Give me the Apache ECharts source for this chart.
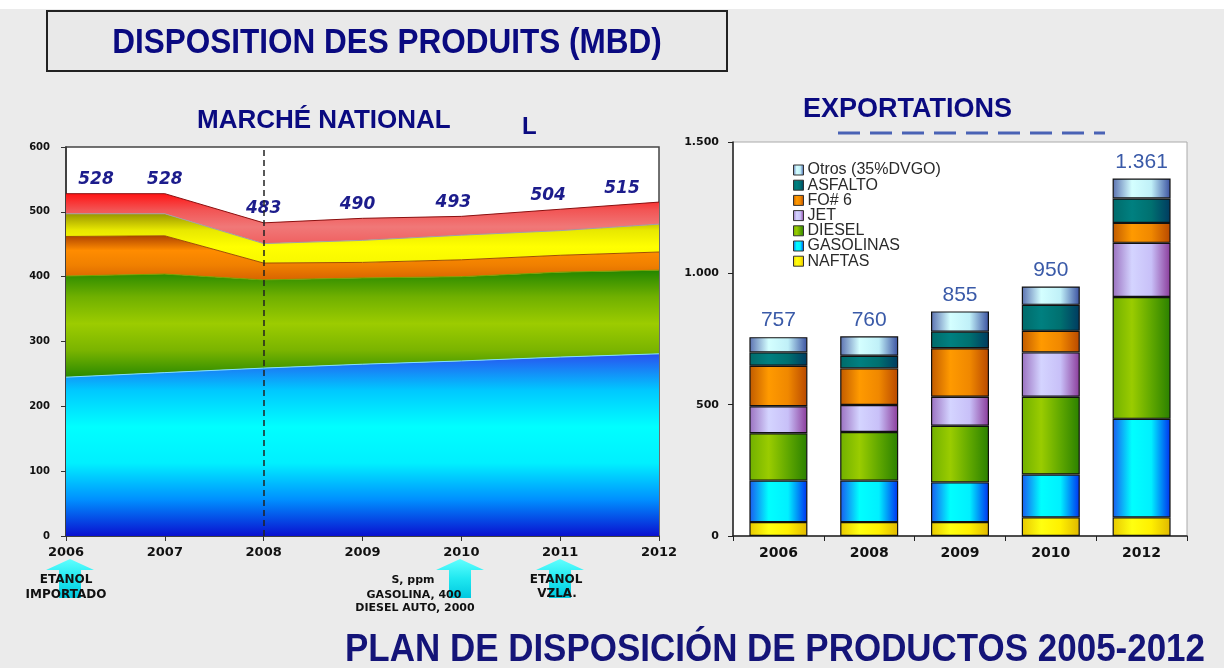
<!DOCTYPE html>
<html>
<head>
<meta charset="utf-8">
<title>Disposition des produits</title>
<script src="https://cdn.jsdelivr.net/npm/echarts@6.0.0/dist/echarts.min.js"></script>
<style>
  html, body { margin: 0; padding: 0; background: #ebebeb; }
  #chart { width: 1224px; height: 668px; }
</style>
</head>
<body>
<div id="chart"></div>
<script>
// Marché national (stacked areas, MBD)
const natYears = ['2006', '2007', '2008', '2009', '2010', '2011', '2012'];
const gasolina = [245, 252, 259, 265, 270, 276, 281];
const diesel = [156, 152, 136, 133, 130, 131, 129];
const fuelOil = [61, 59, 26, 24, 26, 26, 28];
const bunkerJet = [35, 34, 30, 34, 38, 38, 43];
const otrosProd = [31, 31, 32, 34, 29, 33, 34];
const natTotals = [528, 528, 483, 490, 493, 504, 515];

// Exportations (stacked bars, MBD)
const expYears = ['2006', '2008', '2009', '2010', '2012'];
const naftas = [53, 53, 53, 71, 71];
const gasolinas = [158, 158, 151, 163, 375];
const dieselExp = [180, 185, 216, 296, 464];
const jet = [103, 103, 110, 169, 206];
const fo6 = [154, 139, 185, 82, 76];
const asfalto = [51, 48, 63, 99, 93];
const otrosExp = [58, 74, 77, 70, 76];
const expTotals = [757, 760, 855, 950, 1361];

const natTicks = [0, 100, 200, 300, 400, 500, 600];
const expTicks = [0, 500, 1000, 1500];

const chart = echarts.init(document.getElementById('chart'));

const fmtThousands = (n) => String(n).replace(/\B(?=(\d{3})+(?!\d))/g, '.');

const vgrad = (stops) => ({
  type: 'linear', x: 0, y: 0, x2: 0, y2: 1,
  colorStops: stops.map((c, i) => ({ offset: i / (stops.length - 1), color: c }))
});
const hgrad = (stops) => ({
  type: 'linear', x: 0, y: 0, x2: 1, y2: 0,
  colorStops: stops.map((c, i) => ({ offset: i / (stops.length - 1), color: c }))
});

const areaSeries = (name, data, fill, edge) => ({
  name: name,
  type: 'line',
  stack: 'nat',
  xAxisIndex: 0,
  yAxisIndex: 0,
  data: data,
  symbol: 'none',
  lineStyle: { color: edge, width: 1 },
  areaStyle: { color: fill, opacity: 1 }
});

// label shift so the end labels stay inside the plot
const natLabelShift = [30, 0, 0, -5, -8, -12, -37];

const barSeries = (name, data, fill) => ({
  name: name,
  type: 'bar',
  stack: 'exp',
  xAxisIndex: 1,
  yAxisIndex: 1,
  barWidth: 58,
  data: data,
  itemStyle: { color: fill, borderColor: '#111', borderWidth: 1.2 },
  emphasis: { disabled: true }
});

const txt = (x, y, text, font, fill, extra) => Object.assign({
  type: 'text', x: x, y: y, silent: true,
  style: { x: 0, y: 0, text: text, align: 'center', verticalAlign: 'middle', fill: fill, font: font }
}, extra || {});

const option = {
  backgroundColor: '#ebebeb',
  animation: false,
  grid: [
    { left: 66, top: 147, width: 593, height: 389, show: true, backgroundColor: '#fff', borderColor: '#444', borderWidth: 1.5 },
    { left: 733, top: 142, width: 454, height: 394, show: true, backgroundColor: '#fff', borderColor: '#aaa', borderWidth: 1 }
  ],
  xAxis: [
    {
      type: 'category', gridIndex: 0, data: natYears, boundaryGap: false,
      axisLine: { lineStyle: { color: '#333', width: 1.5 } },
      axisTick: { show: true, length: 5, lineStyle: { color: '#333' } },
      axisLabel: { color: '#111', fontFamily: 'DejaVu Sans', fontWeight: 'bold', fontSize: 13, margin: 10 }
    },
    {
      type: 'category', gridIndex: 1, data: expYears,
      axisLine: { lineStyle: { color: '#222', width: 1.5 } },
      axisTick: { show: true, length: 5, lineStyle: { color: '#222' } },
      axisLabel: { color: '#111', fontFamily: 'DejaVu Sans', fontWeight: 'bold', fontSize: 14, margin: 10 }
    }
  ],
  yAxis: [
    {
      type: 'value', gridIndex: 0, min: natTicks[0], max: natTicks[natTicks.length - 1], interval: 100,
      axisLine: { show: true, lineStyle: { color: '#333', width: 1.5 } },
      axisTick: { show: true, length: 5, lineStyle: { color: '#333' } },
      splitLine: { show: false },
      axisLabel: { color: '#111', fontFamily: 'DejaVu Sans', fontWeight: 'bold', fontSize: 10, margin: 16 }
    },
    {
      type: 'value', gridIndex: 1, min: expTicks[0], max: expTicks[expTicks.length - 1], interval: 500,
      axisLine: { show: true, lineStyle: { color: '#222', width: 1.5 } },
      axisTick: { show: true, length: 5, lineStyle: { color: '#222' } },
      splitLine: { show: false },
      axisLabel: { color: '#111', fontFamily: 'DejaVu Sans', fontWeight: 'bold', fontSize: 11, margin: 14, formatter: (v) => fmtThousands(v) }
    }
  ],
  legend: {
    data: ['Otros (35%DVGO)', 'ASFALTO', 'FO# 6', 'JET', 'DIESEL', 'GASOLINAS', 'NAFTAS'],
    orient: 'vertical',
    left: 788,
    top: 157,
    icon: 'rect',
    itemWidth: 10,
    itemHeight: 10,
    itemGap: -0.8,
    itemStyle: { borderColor: '#333', borderWidth: 1 },
    textStyle: { color: '#2a2a2a', fontFamily: 'Liberation Sans', fontSize: 16, lineHeight: 13.5, padding: [0, 0, 0, -1] },
    selectedMode: false
  },
  series: [
    areaSeries('GASOLINA SIN PLOMO', gasolina, vgrad(['#2a50f0', '#00c8ff', '#00ffff', '#00f0ff', '#0090ff', '#0a10d0']), '#80e0ff'),
    areaSeries('DIESEL (national)', diesel, vgrad(['#238600', '#70b000', '#9ccc00', '#7ab400', '#2a8a00']), '#7aa000'),
    areaSeries('FUEL OIL', fuelOil, vgrad(['#b04400', '#ff8c00', '#f08000', '#d86400']), '#a05000'),
    areaSeries('Bunker & Jet', bunkerJet, vgrad(['#9a9600', '#e8e800', '#ffff00', '#f8f800']), '#a0a0a0'),
    Object.assign(areaSeries('Otros Productos', otrosProd, vgrad(['#ff1414', '#f25555', '#f07878', '#f06060']), '#8a1010'), {
      symbol: 'circle',
      symbolSize: 1,
      showSymbol: true,
      itemStyle: { color: 'rgba(0,0,0,0)' },
      label: {
        show: true, position: 'top', distance: 5,
        color: '#1c1c8c', fontFamily: 'DejaVu Sans', fontStyle: 'italic', fontWeight: 'bold', fontSize: 17,
        formatter: (p) => String(natTotals[p.dataIndex])
      },
      data: otrosProd.map((v, i) => ({ value: v, label: { offset: [natLabelShift[i], 0] } })),
      markLine: {
        silent: true, symbol: 'none',
        lineStyle: { color: '#222', type: [6, 4], width: 1.5 },
        label: { show: false },
        data: [{ xAxis: '2008' }]
      }
    }),

    barSeries('NAFTAS', naftas, hgrad(['#e8c800', '#ffff10', '#fff000', '#e0b800'])),
    barSeries('GASOLINAS', gasolinas, hgrad(['#1a5af0', '#00ffff', '#00f0ff', '#0030f0'])),
    barSeries('DIESEL', dieselExp, hgrad(['#70b000', '#9acc00', '#60a800', '#2a8000'])),
    barSeries('JET', jet, hgrad(['#9a70c0', '#d4d4ff', '#c8c0f8', '#8a3a9a'])),
    barSeries('FO# 6', fo6, hgrad(['#c05a00', '#ff9a00', '#f08800', '#b84800'])),
    barSeries('ASFALTO', asfalto, hgrad(['#006a6a', '#008080', '#007070', '#003a60'])),
    Object.assign(barSeries('Otros (35%DVGO)', otrosExp, hgrad(['#5a70b0', '#d4ffff', '#c0f0f8', '#3a50a0'])), {
      label: {
        show: true, position: 'top', distance: 6,
        color: '#3a5aa8', fontFamily: 'Liberation Sans', fontSize: 21,
        formatter: (p) => fmtThousands(expTotals[p.dataIndex])
      }
    })
  ],
  graphic: [
    { type: 'rect', left: 0, top: 0, shape: { width: 1224, height: 9 }, style: { fill: '#fff' }, silent: true },
    { type: 'rect', shape: { x: 47, y: 11, width: 680, height: 60 }, style: { fill: '#e9e9e9', stroke: '#222', lineWidth: 2 }, silent: true },
    txt(387, 43, 'DISPOSITION DES PRODUITS (MBD)', 'bold 35px "Liberation Sans", sans-serif', '#0a0a80', { scaleX: 0.9 }),
    { type: 'text', style: { x: 197, y: 121, text: 'MARCHÉ NATIONAL', verticalAlign: 'middle', fill: '#0a0a80', font: 'bold 26px "Liberation Sans", sans-serif' } },
    { type: 'text', style: { x: 522, y: 127, text: 'L', verticalAlign: 'middle', fill: '#0a0a80', font: 'bold 24px "Liberation Sans", sans-serif' } },
    { type: 'text', style: { x: 803, y: 110, text: 'EXPORTATIONS', verticalAlign: 'middle', fill: '#0a0a80', font: 'bold 27px "Liberation Sans", sans-serif' } },
    { type: 'line', shape: { x1: 838, y1: 133, x2: 1105, y2: 133 }, style: { stroke: '#2040a8', lineWidth: 3, lineDash: [22, 10], opacity: 0.8 }, silent: true },

    // names inside the areas
    txt(512, 226, 'Otros Productos', 'italic bold 15px "DejaVu Sans", sans-serif', '#222'),
    txt(537, 246, 'Bunker & Jet', 'italic bold 14px "DejaVu Sans", sans-serif', '#222'),
    txt(533, 266, 'FUEL OIL', 'italic bold 14px "DejaVu Sans", sans-serif', '#222'),
    txt(345, 324, 'DIESEL', 'italic bold 14px "DejaVu Sans", sans-serif', '#222'),
    txt(360, 460, 'GASOLINA SIN PLOMO', 'italic bold 16px "DejaVu Sans", sans-serif', '#1a2a4a', { scaleX: 1.1 }),

    // entrada gas arrow
    { type: 'line', shape: { x1: 276, y1: 494, x2: 434, y2: 494 }, style: { stroke: '#1a1a3a', lineWidth: 3 }, silent: true },
    { type: 'polygon', shape: { points: [[432, 489], [443, 494], [432, 499]] }, style: { fill: '#1a1a3a' }, silent: true },
    txt(347, 506, 'ENTRADA GAS', 'bold 12px "DejaVu Sans", sans-serif', '#1a2a50', { scaleX: 1.15 }),

    // milestone arrows under the axis
    ...[70, 460, 560].map((cx) => ({
      type: 'polygon',
      shape: { points: [[cx, 559], [cx + 24, 570], [cx + 11, 570], [cx + 11, 598], [cx - 11, 598], [cx - 11, 570], [cx - 24, 570]] },
      style: { fill: vgrad(['#60ffff', '#20e8f0', '#00c8e0']) },
      silent: true
    })),
    txt(66, 580, 'ETANOL', 'bold 12px "DejaVu Sans", sans-serif', '#111'),
    txt(66, 595, 'IMPORTADO', 'bold 12px "DejaVu Sans", sans-serif', '#111'),
    txt(413, 580, 'S, ppm', 'bold 11px "DejaVu Sans", sans-serif', '#111'),
    txt(414, 595, 'GASOLINA, 400', 'bold 11px "DejaVu Sans", sans-serif', '#111'),
    txt(415, 608, 'DIESEL AUTO, 2000', 'bold 11px "DejaVu Sans", sans-serif', '#111'),
    txt(556, 580, 'ETANOL', 'bold 12px "DejaVu Sans", sans-serif', '#111'),
    txt(557, 594, 'VZLA.', 'bold 12px "DejaVu Sans", sans-serif', '#111'),

    txt(775, 651, 'PLAN DE DISPOSICIÓN DE PRODUCTOS 2005-2012', 'bold 38px "Liberation Sans", sans-serif', '#141478', { scaleX: 0.92 })
  ]
};

chart.setOption(option);
</script>
</body>
</html>
